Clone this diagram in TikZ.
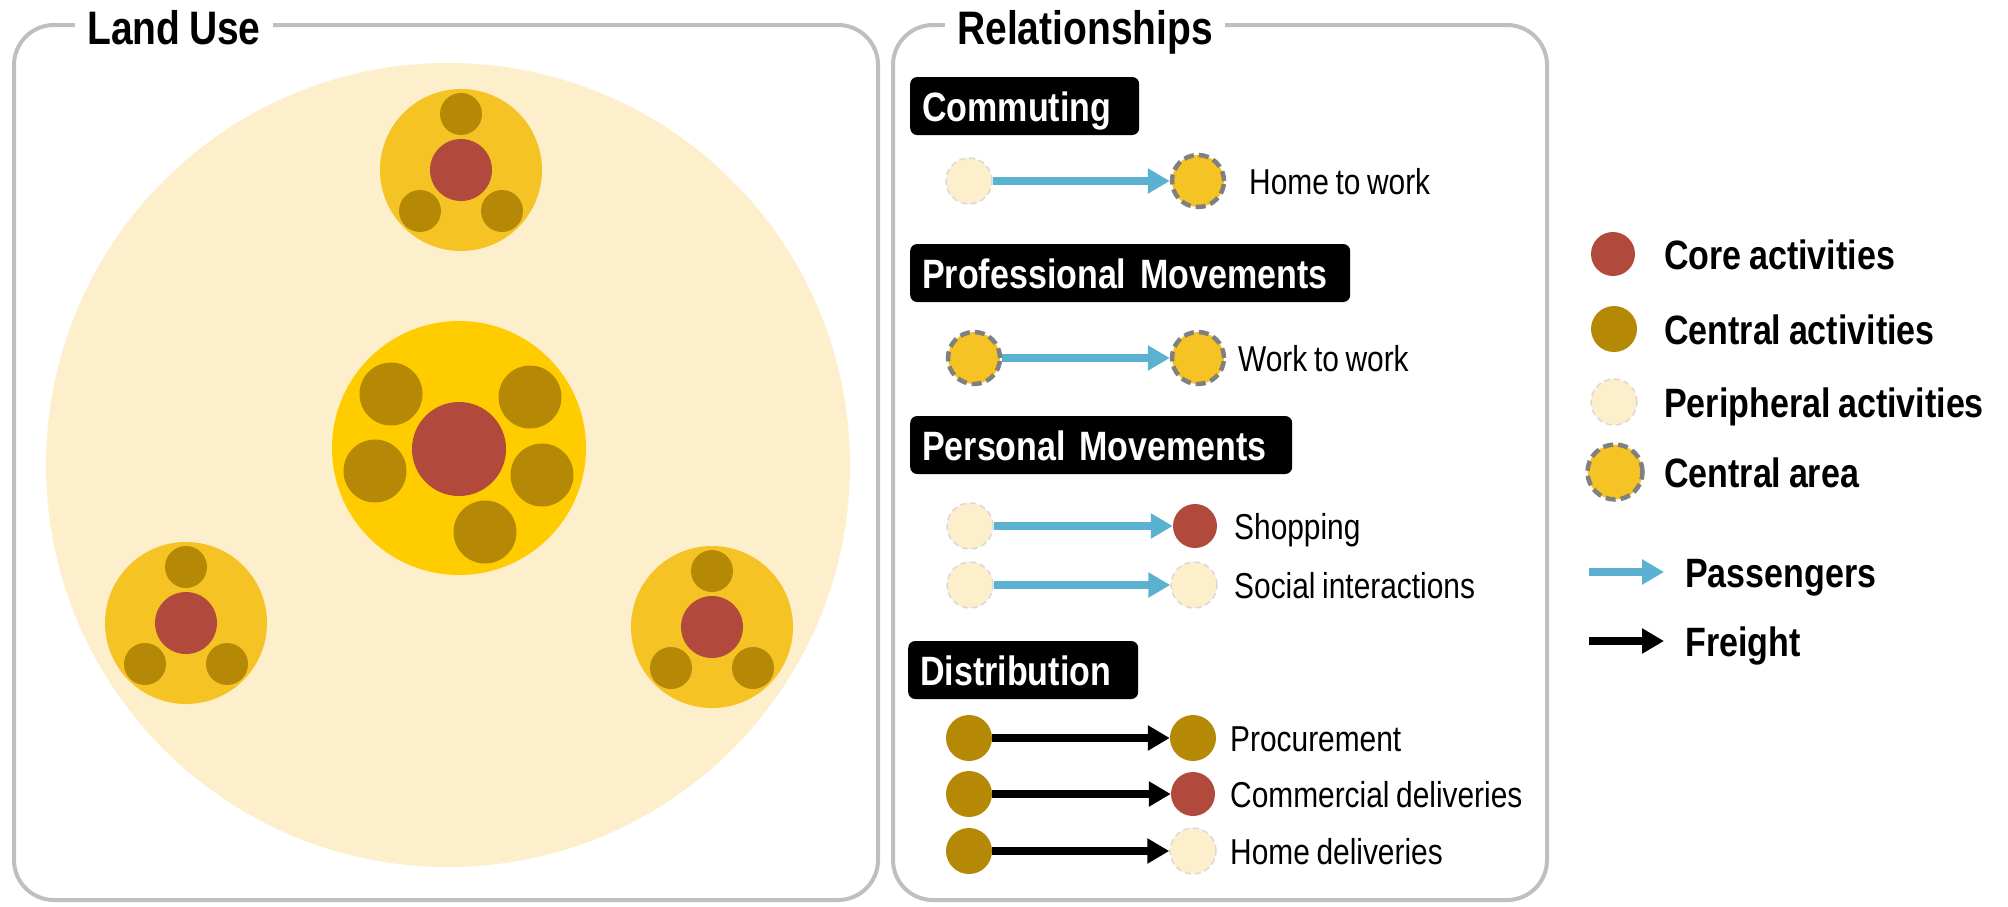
\documentclass[tikz,border=0pt]{standalone}
\usepackage{fontspec}
\setmainfont{Liberation Sans}[FakeStretch=0.83, WordSpace=0.8]
\usetikzlibrary{arrows.meta}
\definecolor{pale}{HTML}{FDEFCB}
\definecolor{satyellow}{HTML}{F6C324}
\definecolor{hubyellow}{HTML}{FFCC00}
\definecolor{brownact}{HTML}{B58905}
\definecolor{redact}{HTML}{B1493D}
\definecolor{passblue}{HTML}{5AB1D0}
\definecolor{framegray}{HTML}{BFBFBF}
\begin{document}
\begin{tikzpicture}[x=1pt, y=-1pt,
  core/.style={circle, fill=redact, minimum size=44pt, inner sep=0pt},
  cent/.style={circle, fill=brownact, minimum size=46pt, inner sep=0pt},
  peri/.style={circle, fill=pale, draw=black!15, line width=1.5pt,
    dash pattern=on 6pt off 4pt, minimum size=46pt, inner sep=0pt},
  area/.style={circle, fill=satyellow, draw=black!50, line width=4.5pt,
    dash pattern=on 10pt off 5pt, minimum size=52pt, inner sep=0pt},
  pass/.style={passblue, line width=8pt, -{Triangle[length=22pt,width=24pt]}},
  frgt/.style={black, line width=8pt, -{Triangle[length=22pt,width=24pt]}},
  lbl/.style={anchor=west, inner sep=0pt, text height=26pt, text depth=0pt,
    font=\fontsize{36}{40}\selectfont},
  key/.style={anchor=west, inner sep=0pt, text height=30pt, text depth=0pt,
    font=\fontsize{41}{46}\selectfont\bfseries},
  tag/.style={anchor=west, fill=black, text=white, rounded corners=7pt,
    inner xsep=12pt, inner ysep=0pt, minimum height=58pt, text width=#1,
    align=left, text height=30pt, text depth=0pt,
    font=\fontsize{41}{46}\selectfont\bfseries},
  title/.style={anchor=west, fill=white, inner xsep=12pt, inner ysep=2pt,
    text height=34pt, text depth=0pt, font=\fontsize{47}{52}\selectfont\bfseries},
  panel/.style={draw=framegray, line width=4pt, rounded corners=40pt}]
  \useasboundingbox (0,0) rectangle (2008,906);
  \draw[panel] (14,25) rectangle (878,900);
  \draw[panel] (893,25) rectangle (1547,900);
  \node[title] (landuse) at (75,27) {Land Use};
  \node[title] (relations) at (945,27) {Relationships};

  % land use
  \fill[pale] (448,465) circle (402pt);
  \fill[hubyellow] (459,448) circle (127pt);
  \fill[redact] (459,449) circle (47pt);
  \foreach \x/\y in {391/394, 530/397, 375/471, 542/475, 485/532}
    \fill[brownact] (\x,\y) circle (31.5pt);
  \foreach \x/\y in {461/170, 186/623, 712/627} {
    \fill[satyellow] (\x,\y) circle (81pt);
    \fill[redact] (\x,\y) circle (31pt);
    \fill[brownact] (\x,\y-56) circle (21pt);
    \fill[brownact] (\x-41,\y+41) circle (21pt);
    \fill[brownact] (\x+41,\y+41) circle (21pt);
  }

  % relationships
  \node[tag=205pt] (commuting) at (910,106) {Commuting};
  \node[peri] (hw1) at (969,181) {};
  \node[area] (hw2) at (1198,181) {};
  \draw[pass] (hw1) -- (hw2);
  \node[lbl] (hwtxt) at (1249,181) {Home to work};

  \node[tag=416pt] (professional) at (910,273) {Professional Movements};
  \node[area] (ww1) at (974,358) {};
  \node[area] (ww2) at (1198,358) {};
  \draw[pass] (ww1) -- (ww2);
  \node[lbl] (wwtxt) at (1238,358) {Work to work};

  \node[tag=358pt] (personal) at (910,445) {Personal Movements};
  \node[peri] (sh1) at (970,526) {};
  \node[core] (sh2) at (1195,526) {};
  \draw[pass] (sh1) -- (sh2);
  \node[lbl] (shtxt) at (1234,526) {Shopping};
  \node[peri] (so1) at (970,585) {};
  \node[peri] (so2) at (1194,585) {};
  \draw[pass] (so1) -- (so2);
  \node[lbl] (sotxt) at (1234,585) {Social interactions};

  \node[tag=206pt] (distribution) at (908,670) {Distribution};
  \node[cent] (pr1) at (969,738) {};
  \node[cent] (pr2) at (1193,738) {};
  \draw[frgt] (pr1) -- (pr2);
  \node[lbl] (prtxt) at (1230,738) {Procurement};
  \node[cent] (cd1) at (969,794) {};
  \node[core] (cd2) at (1193,794) {};
  \draw[frgt] (cd1) -- (cd2);
  \node[lbl] (cdtxt) at (1230,794) {Commercial deliveries};
  \node[cent] (hd1) at (969,851) {};
  \node[peri] (hd2) at (1193,851) {};
  \draw[frgt] (hd1) -- (hd2);
  \node[lbl] (hdtxt) at (1230,851) {Home deliveries};

  % legend
  \node[core] (kcore) at (1613,254) {};
  \node[key] (kcoretxt) at (1664,254) {Core activities};
  \node[cent] (kcent) at (1614,329) {};
  \node[key] (kcenttxt) at (1664,329) {Central activities};
  \node[peri] (kperi) at (1614,402) {};
  \node[key] (kperitxt) at (1664,402) {Peripheral activities};
  \node[area, minimum size=55pt] (karea) at (1615,472) {};
  \node[key] (kareatxt) at (1664,472) {Central area};
  \coordinate (kp1) at (1589,572);
  \coordinate (kp2) at (1664,572);
  \draw[pass] (kp1) -- (kp2);
  \node[key] (kptxt) at (1685,572) {Passengers};
  \coordinate (kf1) at (1589,641);
  \coordinate (kf2) at (1664,641);
  \draw[frgt] (kf1) -- (kf2);
  \node[key] (kftxt) at (1685,641) {Freight};
\end{tikzpicture}
\end{document}
